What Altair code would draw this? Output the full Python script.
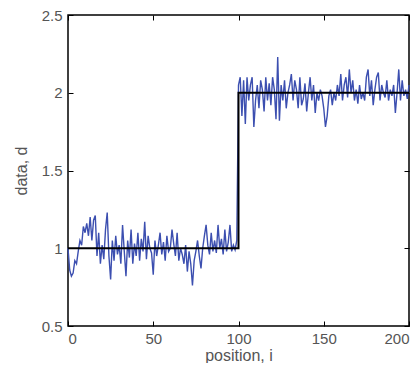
import altair as alt
import pandas as pd

low = [
    1.00, 0.86, 0.82, 0.84, 0.92, 0.90, 0.98, 1.05, 1.02, 1.14,
    1.10, 1.16, 1.08, 1.20, 1.05, 1.18, 1.21, 0.95, 1.10, 0.90,
    1.02, 0.93, 1.12, 1.23, 0.95, 0.80, 1.05, 0.92, 1.08, 0.96,
    1.02, 0.90, 1.15, 0.98, 0.82, 1.05, 0.94, 1.12, 0.90, 1.03,
    0.95, 1.10, 0.92, 1.06, 0.98, 1.17, 0.93, 1.08, 1.00, 0.97,
    0.83, 1.05, 0.95, 1.02, 1.10, 0.96, 1.04, 0.92, 1.08, 0.98,
    1.00, 1.12, 1.03, 0.95, 1.10, 0.92, 1.00, 0.96, 0.90, 1.02,
    0.85, 0.98, 0.90, 0.76, 0.92, 0.98, 1.05, 0.95, 0.87, 1.00,
    1.08, 1.15, 1.02, 0.96, 1.10, 0.98, 1.05, 0.97, 1.15, 1.00,
    1.06, 0.96, 1.12, 0.98, 1.04, 1.15, 0.98, 1.02, 0.99, 1.05,
]
high = [
    2.05, 2.10, 1.85, 2.08, 1.80, 2.10, 1.95, 2.05, 2.10, 1.78,
    1.95, 2.05, 1.90, 2.08, 2.02, 1.88, 2.10, 1.95, 2.06, 1.92,
    2.10, 2.02, 1.83, 2.23, 1.82, 2.05, 1.95, 2.08, 1.90, 2.00,
    2.05, 2.12, 1.95, 2.08, 2.02, 1.90, 2.10, 1.92, 1.96, 2.06,
    1.88, 2.00, 2.10, 1.95, 2.05, 1.87, 2.00, 1.95, 2.02, 1.98,
    1.90, 1.78, 1.85, 1.98, 2.02, 1.92, 2.00, 1.95, 2.05, 1.98,
    2.12, 1.95, 2.05, 2.10, 1.97, 2.15, 2.00, 2.08, 1.95, 2.02,
    1.93, 2.05, 1.96, 2.00, 1.95, 2.10, 2.15, 1.98, 2.08, 1.92,
    2.02, 2.10, 2.13, 1.95, 2.05, 2.00, 1.97, 2.08, 1.95, 2.02,
    1.98, 2.05, 1.87, 2.00, 2.15, 1.95, 2.08, 1.98, 2.02, 1.96, 2.05,
]
data_d = low + high
data_i = list(range(len(data_d)))

# true model (step)
model_i = [0, 100, 100, 200]
model_d = [1, 1, 2, 2]
model_order = [0, 1, 2, 3]

x_ticks = [0, 50, 100, 150, 200]
y_ticks = [0.5, 1, 1.5, 2, 2.5]

obs = pd.DataFrame({"i": data_i, "d": data_d})
mod = pd.DataFrame({"i": model_i, "d": model_d, "o": model_order})

FONT = "Liberation Sans"
GREY = "#555555"

xs = alt.Scale(domain=[0, 200], nice=False, zero=False)
ys = alt.Scale(domain=[0.5, 2.5], nice=False, zero=False)

common = dict(domain=False, ticks=True, tickSize=5, offset=-5, tickColor="black",
              tickWidth=1, grid=False, labelFont=FONT, labelFontSize=15,
              labelColor=GREY, titleFont=FONT, titleFontSize=16,
              titleColor=GREY, titleFontWeight="normal")

line_obs = alt.Chart(obs).mark_line(color="#3c4fb0", strokeWidth=1.4).encode(
    x=alt.X("i:Q", scale=xs, title="position, i",
            axis=alt.Axis(values=x_ticks, labelPadding=5, titlePadding=1, **common)),
    y=alt.Y("d:Q", scale=ys, title="data, d",
            axis=alt.Axis(values=y_ticks, format="~g", labelPadding=6,
                          titlePadding=12, **common)),
)

line_mod = alt.Chart(mod).mark_line(color="black", strokeWidth=2).encode(
    x=alt.X("i:Q", scale=xs, title=None,
            axis=alt.Axis(values=x_ticks, orient="top", labels=False, **common)),
    y=alt.Y("d:Q", scale=ys, title=None,
            axis=alt.Axis(values=y_ticks, orient="right", labels=False, **common)),
    order="o:O",
)

chart = alt.layer(line_obs, line_mod).resolve_scale(x="independent", y="independent").properties(
    width=341, height=311,
    padding={"left": 60, "top": 7, "right": 3, "bottom": 37},
    autosize=alt.AutoSizeParams(type="none"),
    background="white",
).configure_view(stroke="black", strokeWidth=1.5)

chart.save("out.html", embed_options={"renderer": "svg", "actions": False})
